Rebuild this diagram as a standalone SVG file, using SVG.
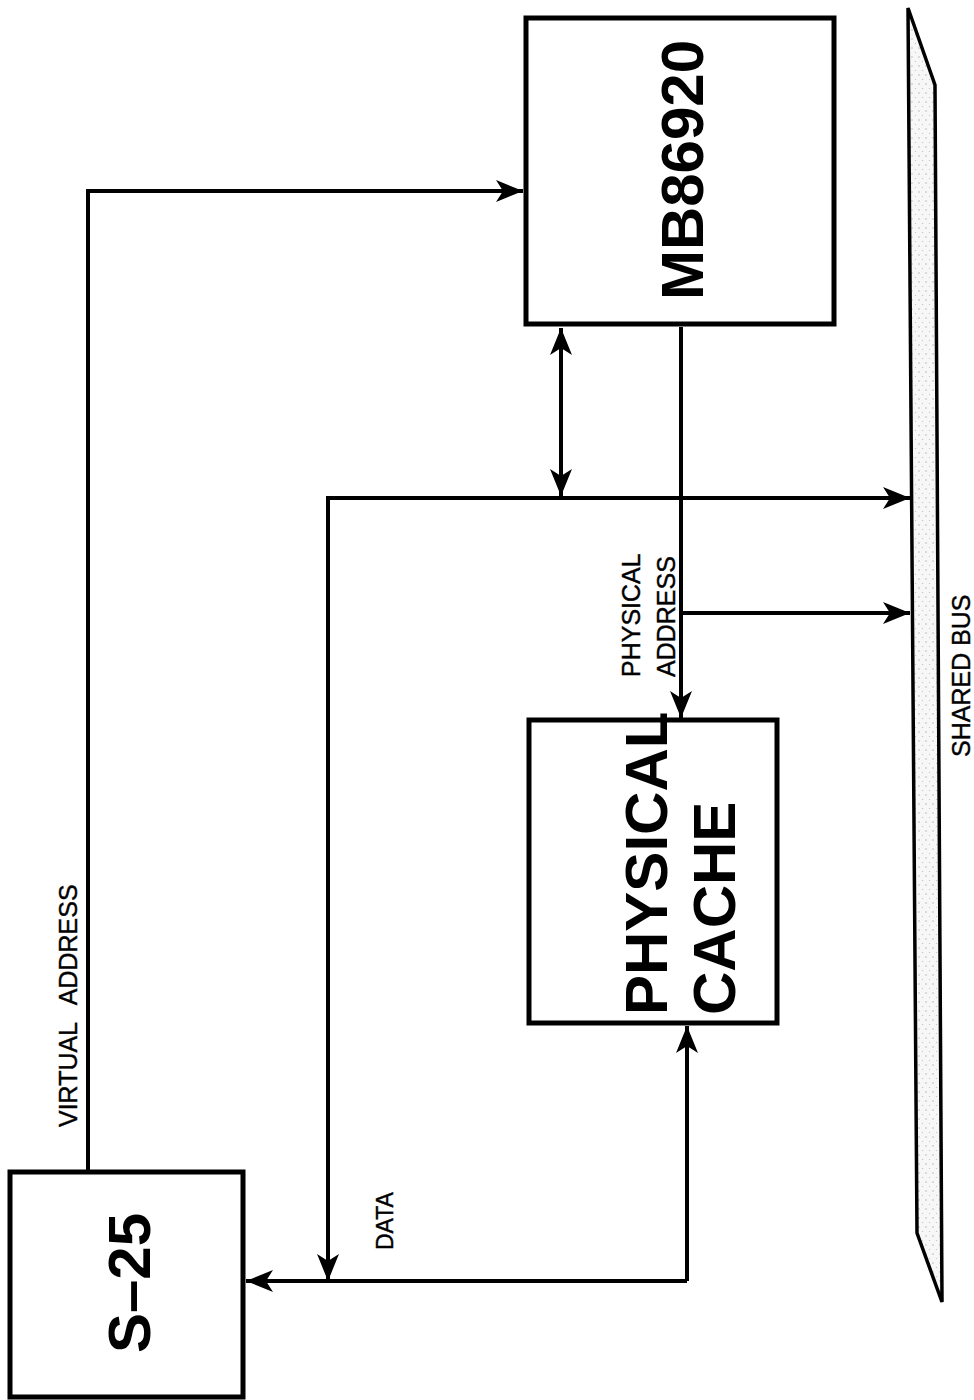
<svg xmlns="http://www.w3.org/2000/svg" width="974" height="1400" viewBox="0 0 974 1400">
<style>
.box{fill:#fff;stroke:#000;stroke-width:5}
.big{font-family:"Liberation Sans",Arial,sans-serif;font-weight:bold;font-size:60px;fill:#000}
.lbl{font-family:"Liberation Sans",Arial,sans-serif;font-size:25px;fill:#000;stroke:#000;stroke-width:0.4}
.wire{fill:none;stroke:#000;stroke-width:4}
</style>
<defs>
<marker id="arr" viewBox="-28 -12 30 24" refX="0" refY="0" markerWidth="30" markerHeight="24" markerUnits="userSpaceOnUse" orient="auto-start-reverse">
<path d="M0,0 L-27,-11 L-20,0 L-27,11 Z" fill="#000"/>
</marker>
<pattern id="dots" width="7" height="9" patternUnits="userSpaceOnUse">
<rect width="7" height="9" fill="#f7f7f7"/>
<circle cx="2" cy="3" r="0.7" fill="#aaa"/>
<circle cx="5.5" cy="7.5" r="0.6" fill="#bbb"/>
</pattern>
</defs>
<rect width="974" height="1400" fill="#fff"/>
<g id="shared-bus">
<path d="M908,8 L935,85 L942,1302 L917,1233 Z" fill="url(#dots)" stroke="#000" stroke-width="3.5" stroke-linejoin="miter"/>
<text class="lbl" transform="translate(970,757) rotate(-90)">SHARED BUS</text>
</g>
<g id="s25">
<rect class="box" x="10" y="1172" width="233" height="225"/>
<text class="big" text-anchor="middle" transform="translate(150,1283) rotate(-90)">S–25</text>
</g>
<g id="mb86920">
<rect class="box" x="526" y="18" width="308" height="306"/>
<text class="big" text-anchor="middle" transform="translate(703,170) rotate(-90)">MB86920</text>
</g>
<g id="physical-cache">
<rect class="box" x="529" y="720" width="248" height="303"/>
<text class="big" transform="translate(667,1015) rotate(-90)">PHYSICAL</text>
<text class="big" transform="translate(735,1015) rotate(-90)">CACHE</text>
</g>
<g id="connectors">
<path class="wire" d="M88,1170 V191 H523" marker-end="url(#arr)"/>
<path class="wire" d="M681,327 V718" marker-end="url(#arr)"/>
<path class="wire" d="M681,613 H910" marker-end="url(#arr)"/>
<path class="wire" d="M328,1281 V498 H910" marker-start="url(#arr)" marker-end="url(#arr)"/>
<path class="wire" d="M561,328 V496" marker-start="url(#arr)" marker-end="url(#arr)"/>
<path class="wire" d="M687,1281 H246" marker-end="url(#arr)"/>
<path class="wire" d="M687,1281 V1026" marker-end="url(#arr)"/>
<text class="lbl" word-spacing="12" transform="translate(77,1127) rotate(-90)">VIRTUAL ADDRESS</text>
<text class="lbl" transform="translate(640,677) rotate(-90)">PHYSICAL</text>
<text class="lbl" transform="translate(675,677) rotate(-90)">ADDRESS</text>
<text class="lbl" style="font-size:23px" transform="translate(393,1250) rotate(-90)">DATA</text>
</g>
</svg>
